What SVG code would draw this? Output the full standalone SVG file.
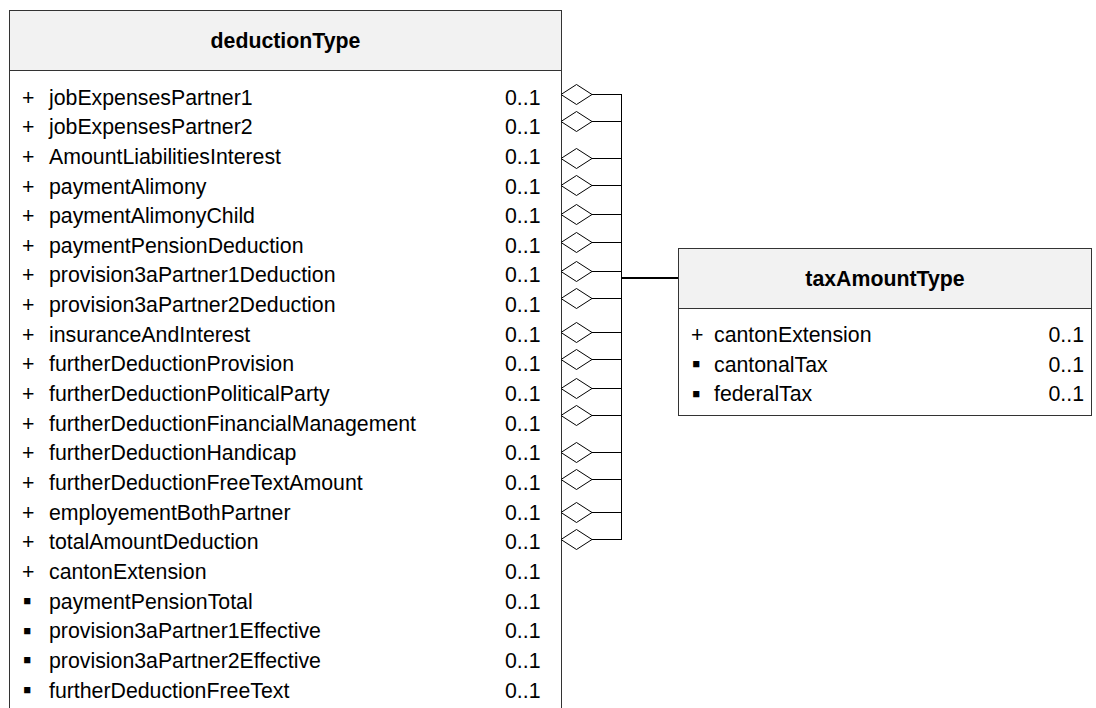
<svg xmlns="http://www.w3.org/2000/svg" width="1096" height="708" viewBox="0 0 1096 708">
<style>
.box{fill:#ffffff;stroke:#333333;stroke-width:1}
.hdr{fill:#f2f2f2;stroke:#333333;stroke-width:1}
.t{font-family:"Liberation Sans",Arial,sans-serif;font-size:21.3px;fill:#000000}
.b{font-size:25px}
.title{font-family:"Liberation Sans",Arial,sans-serif;font-size:21.3px;font-weight:bold;fill:#000000;text-anchor:middle}
.ln{stroke:#000000;stroke-width:1;fill:none}
.dia{fill:#ffffff;stroke:#000000;stroke-width:1}
</style>
<defs>
<polygon id="d" class="dia" points="0,0 15.5,-10 31,0 15.5,10"/>
</defs>
<rect x="0" y="0" width="1096" height="708" fill="#ffffff"/>
<g id="connectors">
<path class="ln" d="M592,94.5H621.5M592,121.5H621.5M592,158.5H621.5M592,185.5H621.5M592,214.5H621.5M592,242.5H621.5M592,271.5H621.5M592,298.5H621.5M592,332.5H621.5M592,359.5H621.5M592,388.5H621.5M592,415.5H621.5M592,452.5H621.5M592,479.5H621.5M592,512.5H621.5M592,539.5H621.5M621.5,94V540"/>
<path d="M621.5,278H678" stroke="#000000" stroke-width="2" fill="none"/>
</g>
<g id="deductionType">
<rect class="box" x="9.5" y="10.5" width="552" height="720"/>
<rect class="hdr" x="9.5" y="10.5" width="552" height="60"/>
<text class="title" x="285.5" y="48">deductionType</text>
<g class="t">
<text x="22" y="104.5">+</text><text x="49" y="104.5">jobExpensesPartner1</text><text x="505" y="104.5">0..1</text>
<text x="22" y="134.2">+</text><text x="49" y="134.2">jobExpensesPartner2</text><text x="505" y="134.2">0..1</text>
<text x="22" y="163.8">+</text><text x="49" y="163.8">AmountLiabilitiesInterest</text><text x="505" y="163.8">0..1</text>
<text x="22" y="193.5">+</text><text x="49" y="193.5">paymentAlimony</text><text x="505" y="193.5">0..1</text>
<text x="22" y="223.1">+</text><text x="49" y="223.1">paymentAlimonyChild</text><text x="505" y="223.1">0..1</text>
<text x="22" y="252.8">+</text><text x="49" y="252.8">paymentPensionDeduction</text><text x="505" y="252.8">0..1</text>
<text x="22" y="282.4">+</text><text x="49" y="282.4">provision3aPartner1Deduction</text><text x="505" y="282.4">0..1</text>
<text x="22" y="312.1">+</text><text x="49" y="312.1">provision3aPartner2Deduction</text><text x="505" y="312.1">0..1</text>
<text x="22" y="341.7">+</text><text x="49" y="341.7">insuranceAndInterest</text><text x="505" y="341.7">0..1</text>
<text x="22" y="371.4">+</text><text x="49" y="371.4">furtherDeductionProvision</text><text x="505" y="371.4">0..1</text>
<text x="22" y="401">+</text><text x="49" y="401">furtherDeductionPoliticalParty</text><text x="505" y="401">0..1</text>
<text x="22" y="430.7">+</text><text x="49" y="430.7">furtherDeductionFinancialManagement</text><text x="505" y="430.7">0..1</text>
<text x="22" y="460.3">+</text><text x="49" y="460.3">furtherDeductionHandicap</text><text x="505" y="460.3">0..1</text>
<text x="22" y="490">+</text><text x="49" y="490">furtherDeductionFreeTextAmount</text><text x="505" y="490">0..1</text>
<text x="22" y="519.6">+</text><text x="49" y="519.6">employementBothPartner</text><text x="505" y="519.6">0..1</text>
<text x="22" y="549.3">+</text><text x="49" y="549.3">totalAmountDeduction</text><text x="505" y="549.3">0..1</text>
<text x="22" y="578.9">+</text><text x="49" y="578.9">cantonExtension</text><text x="505" y="578.9">0..1</text>
<text class="b" x="23" y="609">▪</text><text x="49" y="608.6">paymentPensionTotal</text><text x="505" y="608.6">0..1</text>
<text class="b" x="23" y="638.6">▪</text><text x="49" y="638.2">provision3aPartner1Effective</text><text x="505" y="638.2">0..1</text>
<text class="b" x="23" y="668.3">▪</text><text x="49" y="667.9">provision3aPartner2Effective</text><text x="505" y="667.9">0..1</text>
<text class="b" x="23" y="697.9">▪</text><text x="49" y="697.5">furtherDeductionFreeText</text><text x="505" y="697.5">0..1</text>
</g>
<use href="#d" x="561" y="94.5"/>
<use href="#d" x="561" y="121.5"/>
<use href="#d" x="561" y="158.5"/>
<use href="#d" x="561" y="185.5"/>
<use href="#d" x="561" y="214.5"/>
<use href="#d" x="561" y="242.5"/>
<use href="#d" x="561" y="271.5"/>
<use href="#d" x="561" y="298.5"/>
<use href="#d" x="561" y="332.5"/>
<use href="#d" x="561" y="359.5"/>
<use href="#d" x="561" y="388.5"/>
<use href="#d" x="561" y="415.5"/>
<use href="#d" x="561" y="452.5"/>
<use href="#d" x="561" y="479.5"/>
<use href="#d" x="561" y="512.5"/>
<use href="#d" x="561" y="539.5"/>
</g>
<g id="taxAmountType">
<rect class="box" x="678.5" y="248.5" width="413" height="167"/>
<rect class="hdr" x="678.5" y="248.5" width="413" height="60"/>
<text class="title" x="885" y="286">taxAmountType</text>
<g class="t">
<text x="691" y="342">+</text><text x="714" y="342">cantonExtension</text><text x="1048.5" y="342">0..1</text>
<text class="b" x="692" y="372">▪</text><text x="714" y="371.5">cantonalTax</text><text x="1048.5" y="371.5">0..1</text>
<text class="b" x="692" y="401.5">▪</text><text x="714" y="401">federalTax</text><text x="1048.5" y="401">0..1</text>
</g>
</g>
</svg>
